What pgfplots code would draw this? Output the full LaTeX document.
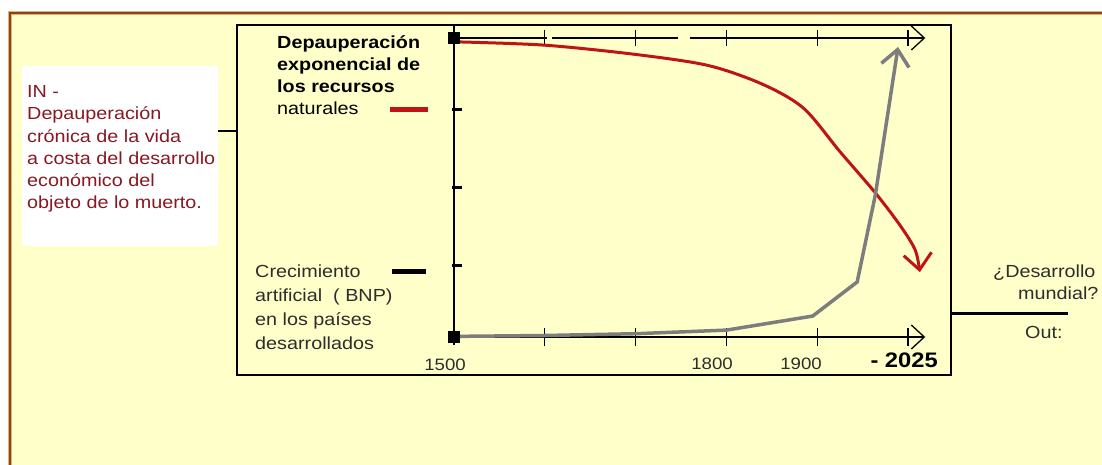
\documentclass[border=0pt]{standalone}
\usepackage{fontspec}
\setmainfont{Liberation Sans}
\usepackage{pgfplots}
\pgfplotsset{compat=1.18}
\usetikzlibrary{arrows.meta}
\definecolor{bgyellow}{RGB}{255,255,202}
\definecolor{borderbrown}{RGB}{130,70,35}
\definecolor{borderglow}{RGB}{238,175,105}
\definecolor{redtext}{RGB}{135,25,35}
\definecolor{redcurve}{RGB}{192,20,20}
\definecolor{graycurve}{RGB}{125,125,125}
\definecolor{labelgray}{RGB}{45,45,45}
\newcommand\fs[1]{\fontsize{#1}{#1}\selectfont}
\begin{document}
\begin{tikzpicture}
\begin{scope}[x=1pt,y=-1pt,shift={(0pt,465pt)}]
\fill[white] (0,0) rectangle (1102,465);
\fill[bgyellow] (10,13) rectangle (1102,465);
\draw[borderglow, line width=4pt] (10,470) -- (10,13) -- (1110,13);
\draw[borderbrown, line width=1.4pt] (10,470) -- (10,13) -- (1110,13);
\draw[line width=1.8pt, fill=bgyellow] (237,25) rectangle (951,375);
\fill[white] (22,66) rectangle (218,246);
\draw[line width=2.5pt] (218,131) -- (237,131);
\draw[line width=3pt] (951,314) -- (1068,314);
% left red text
\begin{scope}[every node/.style={anchor=base west, inner sep=0pt, xscale=1.13, font=\fs{17.5}, text=redtext}]
\node at (27,97.5) {IN -};
\node at (27,119.8) {Depauperación};
\node at (27,142.1) {crónica de la vida};
\node at (27,164.4) {a costa del desarrollo};
\node at (27,186.7) {económico del};
\node at (27,209) {objeto de lo muerto.};
\end{scope}
% legend texts
\begin{scope}[every node/.style={anchor=base west, inner sep=0pt, xscale=1.13, font=\fs{17.5}, text=black}]
\node[font=\fs{17.5}\bfseries] at (277,49) {Depauperación};
\node[font=\fs{17.5}\bfseries] at (277,71) {exponencial de};
\node[font=\fs{17.5}\bfseries] at (277,93) {los recursos};
\node at (277,115) {naturales};
\node[text=labelgray] at (255,278) {Crecimiento};
\node[text=labelgray] at (255,302) {artificial\ \ ( BNP)};
\node[text=labelgray] at (255,326) {en los países};
\node[text=labelgray] at (255,350) {desarrollados};
\node[text=labelgray] at (993,278) {¿Desarrollo};
\node[text=labelgray] at (1018,300) {mundial?};
\node[text=labelgray] at (1025,339) {Out:};
\end{scope}
\draw[redcurve, line width=5pt] (390,110) -- (428,110);
\draw[black, line width=5pt] (392,272) -- (426,272);
% tick labels
\begin{scope}[every node/.style={anchor=base, inner sep=0pt, xscale=1.13, font=\fs{16.5}, text=labelgray}]
\node at (445,371) {1500};
\node at (712,370) {1800};
\node at (801,370) {1900};
\node[anchor=base east, font=\fs{21}\bfseries, text=black] at (938,368) {- 2025};
\end{scope}
\end{scope}
\begin{axis}[at={(454pt,128pt)}, anchor=south west, scale only axis,
  width=471pt, height=299pt, xmin=0, xmax=5.187, ymin=0, ymax=100,
  hide axis, clip=false]
% axes drawn as in the diagram
\draw[line width=1.6pt] (axis cs:0,-2.7) -- (axis cs:0,104.3);
\draw[line width=1.3pt, -{Straight Barb[length=13pt,width=24pt]}] (axis cs:0,0) -- (axis cs:5.19,0);
\draw[line width=1.3pt] (axis cs:0,100) -- (axis cs:1.02,100);
\draw[line width=1.3pt] (axis cs:1.08,100) -- (axis cs:2.47,100);
\draw[line width=1.3pt, -{Straight Barb[length=13pt,width=24pt]}] (axis cs:2.60,100) -- (axis cs:5.19,100);
\pgfplotsinvokeforeach{1,...,5}{
  \draw[line width=1.3pt] (axis cs:#1,-3) -- (axis cs:#1,3);
  \draw[line width=1.3pt] (axis cs:#1,97.3) -- (axis cs:#1,102.7);
}
\pgfplotsinvokeforeach{24,50,76}{
  \draw[line width=2.6pt] (axis cs:-0.02,#1) -- (axis cs:0.09,#1);
}
% natural resources (red)
\addplot[smooth, tension=0.5, line width=3pt, redcurve, -{Straight Barb[length=16pt,width=28pt]}]
  coordinates {(0.04,98.7) (1.0,97.6) (2.0,94.5) (2.8,90.8) (3.4,84.5) (3.85,76.5) (4.25,62.0) (4.64,48.2) (4.92,37.0) (5.08,29.0) (5.13,21.7)};
% BNP (gray)
\addplot[sharp plot, line width=3.5pt, graycurve, -{Straight Barb[length=16pt,width=28pt]}]
  coordinates {(0,0.2) (1,0.5) (2,1.1) (3,2.3) (3.95,7.0) (4.44,18.4) (4.64,47.5) (4.89,97.0)};
\addplot[only marks, mark=square*, mark size=5.5pt, black] coordinates {(0,0) (0,100)};
\end{axis}
\pgfresetboundingbox
\path[use as bounding box] (0,0) rectangle (1102pt,465pt);
\end{tikzpicture}
\end{document}
